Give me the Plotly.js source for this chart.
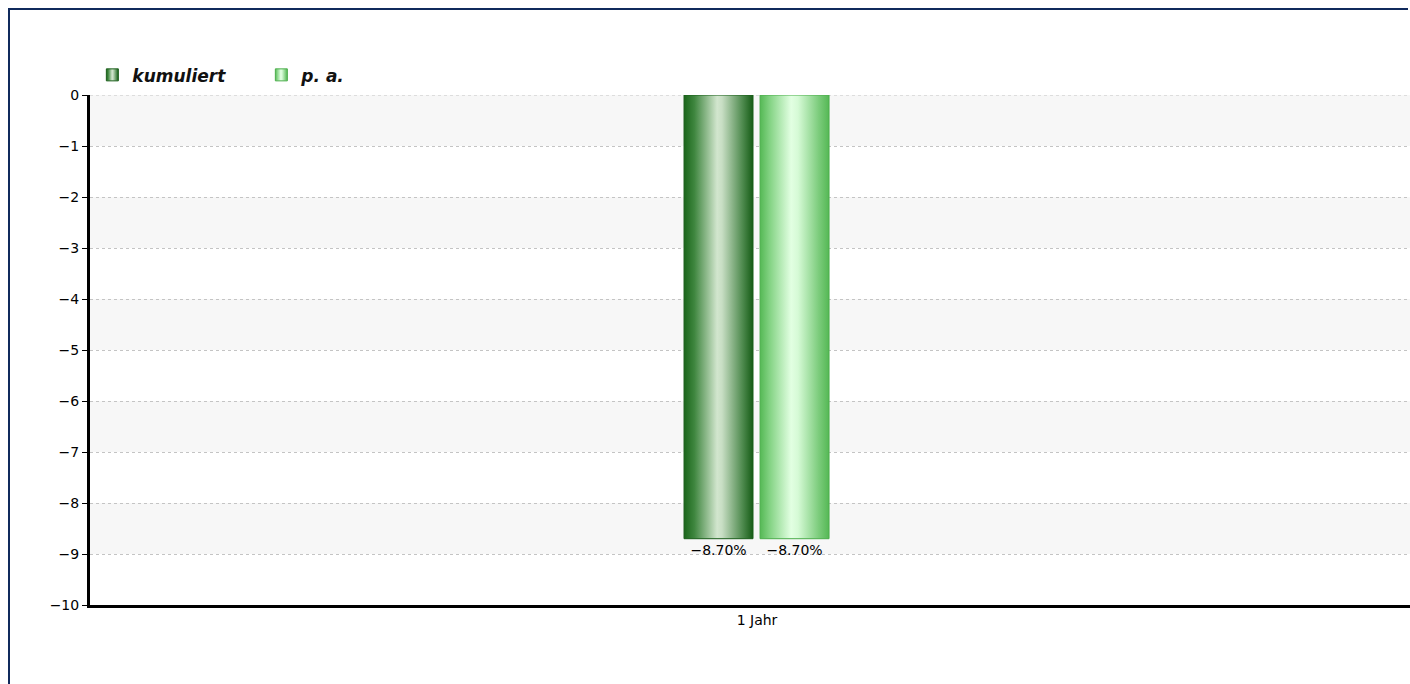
<!DOCTYPE html>
<html>
<head>
<meta charset="utf-8">
<script src="https://cdn.plot.ly/plotly-3.0.1.min.js"></script>
<style>
html, body { margin: 0; padding: 0; background: #ffffff; overflow: hidden; width: 1410px; height: 684px; }
#chart { position: absolute; left: 0; top: 0; width: 1410px; height: 684px; }
#frameTop { position: absolute; left: 8px; top: 8px; width: 1400px; height: 2px; background: #102a5c; z-index: 10; pointer-events: none; }
#frameLeft { position: absolute; left: 8px; top: 8px; width: 2px; height: 676px; background: #102a5c; z-index: 10; pointer-events: none; }
</style>
</head>
<body>
<div id="chart"></div>
<div id="frameTop"></div>
<div id="frameLeft"></div>
<script>
// ---- data ----
var categories = ['1 Jahr'];
var seriesNames = ['kumuliert', 'p. a.'];
var kumuliertValues = [-8.70];
var paValues = [-8.70];
var yTickValues = [0, -1, -2, -3, -4, -5, -6, -7, -8, -9, -10];

function fmtPct(v) {
  return (v.toFixed(2) + '%').replace('-', '\u2212');
}

var fontFam = 'DejaVu Sans, Arial, sans-serif';

var traceK = {
  type: 'bar',
  name: seriesNames[0],
  x: categories,
  y: kumuliertValues,
  text: kumuliertValues.map(fmtPct),
  textposition: 'outside',
  constraintext: 'none',
  cliponaxis: false,
  textfont: { family: fontFam, size: 14, color: '#000000' },
  width: 0.0517,
  offset: -0.0547,
  marker: { color: '#5a9a5a', line: { color: '#1b5e1b', width: 1 } },
  hoverinfo: 'none'
};
var traceP = {
  type: 'bar',
  name: seriesNames[1],
  x: categories,
  y: paValues,
  text: paValues.map(fmtPct),
  textposition: 'outside',
  constraintext: 'none',
  cliponaxis: false,
  textfont: { family: fontFam, size: 14, color: '#000000' },
  width: 0.0517,
  offset: 0.0023,
  marker: { color: '#a0e0a0', line: { color: '#4cae4c', width: 1 } },
  hoverinfo: 'none'
};

// alternating background bands
var shapes = [];
for (var i = 0; i < yTickValues.length - 1; i += 2) {
  shapes.push({
    type: 'rect', xref: 'paper', yref: 'y', layer: 'below',
    x0: 0, x1: 1, y0: yTickValues[i], y1: yTickValues[i + 1],
    fillcolor: '#f7f7f7', line: { width: 0 }
  });
}
// dotted grid line at the top tick (hidden by plotly at the range edge)
shapes.push({
  type: 'line', xref: 'paper', yref: 'y', layer: 'below',
  x0: 0, x1: 1, y0: yTickValues[0], y1: yTickValues[0],
  line: { color: '#c4c4c4', width: 1, dash: '3px,3px' }
});

var layout = {
  width: 1410, height: 684,
  margin: { l: 90, r: 0, t: 95, b: 79, pad: 0 },
  paper_bgcolor: '#ffffff',
  plot_bgcolor: '#ffffff',
  showlegend: true,
  legend: {
    orientation: 'h',
    xref: 'container', yref: 'container',
    x: 0.0655, y: 0.9162, xanchor: 'left', yanchor: 'top',
    font: { family: fontFam, size: 17, color: '#111111', weight: 'bold', style: 'italic' },
    entrywidth: 124, entrywidthmode: 'pixels',
    bgcolor: 'rgba(0,0,0,0)'
  },
  xaxis: {
    type: 'category',
    range: [-0.5, 0.4895],
    showline: true, linecolor: '#000000', linewidth: 3,
    ticks: '', showgrid: false, zeroline: false,
    tickfont: { family: fontFam, size: 14, color: '#000000' },
    fixedrange: true
  },
  yaxis: {
    range: [-10, 0],
    tickvals: yTickValues,
    ticktext: yTickValues.map(function (v) { return String(v).replace('-', '\u2212'); }),
    showline: true, linecolor: '#000000', linewidth: 3,
    ticks: 'outside', ticklen: 5, tickwidth: 1, tickcolor: '#000000',
    showgrid: true, gridcolor: '#c4c4c4', gridwidth: 1, griddash: '3px,3px',
    zeroline: false,
    tickfont: { family: fontFam, size: 14, color: '#000000' },
    fixedrange: true
  },
  shapes: shapes,
  bargap: 0, bargroupgap: 0
};

Plotly.newPlot('chart', [traceK, traceP], layout, { staticPlot: true, displayModeBar: false }).then(function (gd) {
  var svg = gd.querySelector('.main-svg');
  var ns = 'http://www.w3.org/2000/svg';
  var defs = svg.querySelector('defs') || svg.insertBefore(document.createElementNS(ns, 'defs'), svg.firstChild);
  function addGrad(id, stops) {
    var g = document.createElementNS(ns, 'linearGradient');
    g.setAttribute('id', id);
    g.setAttribute('x1', '0'); g.setAttribute('y1', '0');
    g.setAttribute('x2', '1'); g.setAttribute('y2', '0');
    stops.forEach(function (s) {
      var st = document.createElementNS(ns, 'stop');
      st.setAttribute('offset', s[0]);
      st.setAttribute('stop-color', s[1]);
      g.appendChild(st);
    });
    defs.appendChild(g);
  }
  addGrad('gradK', [[0, '#1a661a'], [0.15, '#3f863f'], [0.48, '#d2e6ce'], [0.55, '#c8dec4'], [0.85, '#4e8a4e'], [1, '#165c16']]);
  addGrad('gradP', [[0, '#55b955'], [0.15, '#86d486'], [0.45, '#e2ffe2'], [0.55, '#d6fad6'], [0.85, '#7ccc7c'], [1, '#55b855']]);
  var ids = ['gradK', 'gradP'];
  var traces = gd.querySelectorAll('.barlayer .trace');
  traces.forEach(function (t, k) {
    t.querySelectorAll('.point path').forEach(function (p) { p.style.fill = 'url(#' + ids[k] + ')'; });
  });
  var legItems = gd.querySelectorAll('.legend .traces');
  legItems.forEach(function (t, k) {
    t.querySelectorAll('.legendpoints path').forEach(function (p) { p.style.fill = 'url(#' + ids[k] + ')'; });
  });
});
</script>
</body>
</html>
